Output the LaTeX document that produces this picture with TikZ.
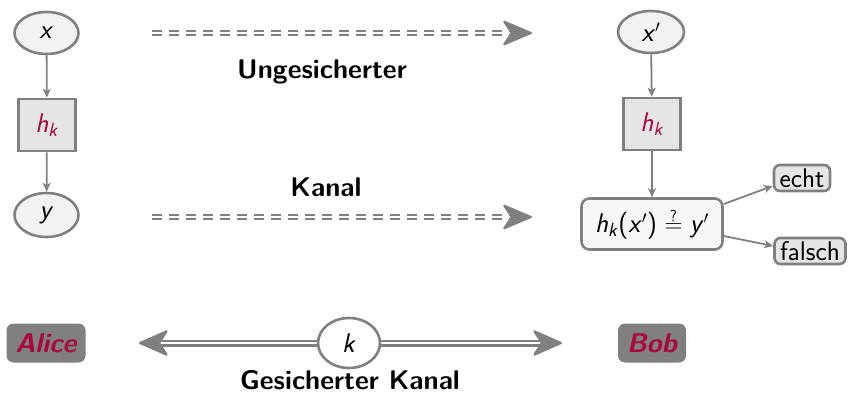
\documentclass[tikz,border=0pt]{standalone}
\usetikzlibrary{arrows.meta,shapes.geometric}
\definecolor{alertc}{RGB}{170,0,60}
\definecolor{bordc}{RGB}{128,128,128}
\definecolor{ellfill}{RGB}{242,242,242}
\definecolor{boxfill}{RGB}{229,229,229}
\definecolor{cmpfill}{RGB}{247,247,247}
\newcommand{\sv}[1]{\textit{#1}}
\begin{document}
\begin{tikzpicture}[x=1pt,y=-1pt,
  every node/.style={font=\fontsize{27}{32}\selectfont\sffamily},
  ellnode/.style={ellipse,draw=bordc,fill=ellfill,line width=2.6pt,inner sep=0pt},
  hbox/.style={rectangle,draw=bordc,fill=boxfill,line width=2.6pt,minimum width=57pt,minimum height=52pt,inner sep=0pt,text=alertc},
  conn/.style={draw=bordc,line width=1.8pt,-{Stealth[length=9pt,width=8pt,inset=2.5pt]}},
  resbox/.style={rectangle,rounded corners=6pt,draw=bordc,fill=boxfill,line width=2.6pt,inner sep=2pt,minimum height=26pt},
  person/.style={rectangle,rounded corners=7pt,fill=bordc,text=alertc,minimum height=39pt,inner sep=3pt,font=\fontsize{27}{32}\selectfont\sffamily\bfseries\itshape},
  dchan/.style={draw=bordc,line width=2pt,double=white,double distance=2.4pt,dash pattern=on 10pt off 7pt,-{Stealth[round,length=32pt,width=27pt,inset=9pt]}},
  schan/.style={draw=bordc,line width=2.2pt,double=white,double distance=2.6pt,-{Stealth[round,length=32pt,width=28pt,inset=9pt]}},
  lbl/.style={font=\fontsize{27}{32}\selectfont\sffamily\bfseries}
]
\useasboundingbox (0,0) rectangle (848,395);

% left column
\node[ellnode,minimum width=64pt,minimum height=42pt] (x) at (46.5,33) {\sv{x}};
\node[hbox] (hk) at (47,125) {\sv{h}\textsubscript{\sv{k}}};
\node[ellnode,minimum width=64pt,minimum height=44pt] (y) at (46.5,215) {\sv{y}};
\draw[conn] (x) -- (hk);
\draw[conn] (hk) -- (y);

% right column
\node[ellnode,minimum width=66pt,minimum height=42pt] (xp) at (651,32) {\sv{x}$'$};
\node[hbox] (hkp) at (652,124) {\sv{h}\textsubscript{\sv{k}}};
\node[rectangle,rounded corners=8pt,draw=bordc,fill=cmpfill,line width=2.6pt,minimum width=141pt,minimum height=51pt,inner sep=2pt] (cmp) at (652,224) {\sv{h}\textsubscript{\sv{k}}(\sv{x}$'$)\;$\stackrel{\hbox{\fontsize{16}{16}\selectfont ?}}{=}$\;\sv{y}$'$};
\node[resbox,minimum width=56pt] (echt) at (802,178) {echt};
\node[resbox,minimum width=71pt] (falsch) at (810,251) {falsch};
\draw[conn] (xp) -- (hkp);
\draw[conn] (hkp) -- (cmp);
\draw[conn] ([yshift=20pt]cmp.east) -- ([yshift=-8pt]echt.west);
\draw[conn] ([yshift=-12pt]cmp.east) -- ([yshift=5pt]falsch.west);

% insecure channel
\coordinate (t1) at (152,33);
\coordinate (t2) at (532,33);
\coordinate (b1) at (152,217);
\coordinate (b2) at (532,217);
\draw[dchan] (t1) -- (t2);
\draw[dchan] (b1) -- (b2);
\node[lbl] (ung) at (322,72) {Ungesicherter};
\node[lbl] (kan) at (326,187) {Kanal};

% secure channel
\node[person,minimum width=79pt] (alice) at (46,343) {Alice};
\node[person,minimum width=68pt] (bob) at (652,343) {Bob};
\node[ellnode,fill=white,minimum width=62pt,minimum height=50pt] (k) at (349,343) {\sv{k}};
\coordinate (sL) at (139,343);
\coordinate (sR) at (562,343);
\draw[schan] (k) -- (sL);
\draw[schan] (k) -- (sR);
\node[lbl] (gk) at (350,380) {Gesicherter Kanal};
\end{tikzpicture}
\end{document}
